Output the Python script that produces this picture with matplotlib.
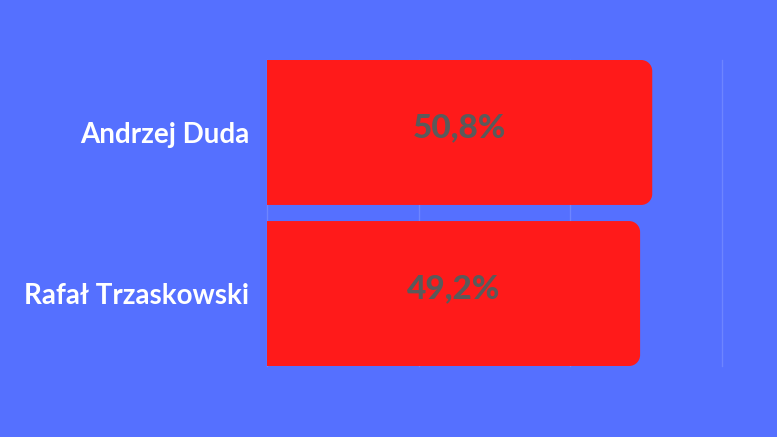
import matplotlib.pyplot as plt
from matplotlib.path import Path
from matplotlib.patches import PathPatch
from matplotlib.transforms import IdentityTransform

candidates = ['Andrzej Duda', 'Rafał Trzaskowski']
shares = [50.8, 49.2]
share_labels = ['50,8%', '49,2%']

BG = '#5570FF'
BAR = '#FF1A1A'
TXT = '#5A5A5A'

plt.rcParams['font.family'] = ['Lato', 'DejaVu Sans']


def rounded_right(bb, r):
    # rectangle in pixels, square on the left, rounded on the right
    x0, y0, x1, y1 = bb.x0, bb.y0, bb.x1, bb.y1
    k = 0.5523 * r
    verts = [
        (x0, y0), (x1 - r, y0),
        (x1 - r + k, y0), (x1, y0 + r - k), (x1, y0 + r),
        (x1, y1 - r),
        (x1, y1 - r + k), (x1 - r + k, y1), (x1 - r, y1),
        (x0, y1), (x0, y0),
    ]
    codes = [Path.MOVETO, Path.LINETO,
             Path.CURVE4, Path.CURVE4, Path.CURVE4,
             Path.LINETO,
             Path.CURVE4, Path.CURVE4, Path.CURVE4,
             Path.LINETO, Path.CLOSEPOLY]
    return Path(verts, codes)


def main():
    fig = plt.figure(figsize=(7.77, 4.37), dpi=100, facecolor=BG)
    ax = fig.add_axes([267 / 777, 71 / 437, 455 / 777, 306 / 437], facecolor=BG)

    pos = list(range(len(candidates)))
    bars = ax.barh(pos, shares, height=0.9, color=BAR)
    ax.set_xlim(0, 60)
    ax.set_ylim(1.45, -0.45)

    ax.set_xticks([0, 20, 40, 60])
    ax.grid(axis='x', color='white', alpha=0.15, lw=1)
    for gl in ax.get_xgridlines():
        gl.set_clip_on(False)
    ax.set_axisbelow(True)
    ax.tick_params(axis='x', length=0, labelbottom=False)
    ax.tick_params(axis='y', length=0, pad=13)
    ax.set_yticks(pos)
    ax.set_yticklabels(candidates, color='white', fontsize=20, fontweight='bold')
    for s in ax.spines.values():
        s.set_visible(False)

    fig.canvas.draw()
    for b in bars:
        bb = b.get_window_extent()
        b.set_visible(False)
        p = PathPatch(rounded_right(bb, 11), facecolor=BAR, edgecolor='none',
                      transform=IdentityTransform(), zorder=2)
        ax.add_patch(p)

    for y, v, lab in zip(pos, shares, share_labels):
        ax.text(v / 2, y - 0.03, lab, ha='center', va='center',
                fontsize=24, fontweight='black', color=TXT, zorder=3)

    fig.savefig('out.png', dpi=100, facecolor=BG)


if __name__ == '__main__':
    main()
